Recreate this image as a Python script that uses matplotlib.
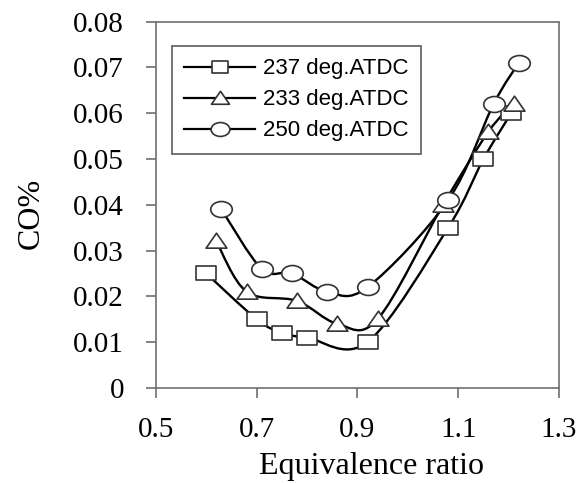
import numpy as np
import matplotlib
matplotlib.use("Agg")
import matplotlib.pyplot as plt
from matplotlib.path import Path
from matplotlib.patches import PathPatch
from matplotlib.lines import Line2D

# data
phi_237 = [0.60, 0.70, 0.75, 0.80, 0.92, 1.08, 1.15, 1.205]
co_237 = [0.025, 0.015, 0.012, 0.011, 0.010, 0.035, 0.050, 0.060]

phi_233 = [0.62, 0.68, 0.78, 0.86, 0.94, 1.07, 1.16, 1.21]
co_233 = [0.032, 0.021, 0.019, 0.014, 0.015, 0.040, 0.056, 0.062]

phi_250 = [0.63, 0.71, 0.77, 0.84, 0.92, 1.08, 1.17, 1.22]
co_250 = [0.039, 0.026, 0.025, 0.021, 0.022, 0.041, 0.062, 0.071]

labels = ["237 deg.ATDC", "233 deg.ATDC", "250 deg.ATDC"]
x_ticks = [0.5, 0.7, 0.9, 1.1, 1.3]
y_ticks = [0, 0.01, 0.02, 0.03, 0.04, 0.05, 0.06, 0.07, 0.08]


def smooth_path(x, y):
    # Excel-like smoothed line: cubic bezier through the points (Catmull-Rom)
    p = np.column_stack([x, y])
    verts = [p[0]]
    codes = [Path.MOVETO]
    n = len(p)
    for i in range(n - 1):
        p0 = p[i - 1] if i > 0 else p[i]
        p1 = p[i]
        p2 = p[i + 1]
        p3 = p[i + 2] if i + 2 < n else p[i + 1]
        verts += [p1 + (p2 - p0) / 6, p2 - (p3 - p1) / 6, p2]
        codes += [Path.CURVE4] * 3
    return Path(verts, codes)


def stretched(verts, sx=1.4):
    v = np.array(verts, dtype=float)
    v[:, 0] *= sx
    return Path(v, closed=True)


sq = stretched([(-1, -1), (1, -1), (1, 1), (-1, 1), (-1, -1)], 1.45)
tri = stretched([(-1, -0.8), (1, -0.8), (0, 1), (-1, -0.8)], 1.25)
circ = Path(Path.unit_circle().vertices * [1.35, 1.0], Path.unit_circle().codes)

fig = plt.figure(figsize=(5.86, 4.83), dpi=100)
ax = fig.add_axes([0.266, 0.197, 0.688, 0.758])

series = [(phi_237, co_237, sq, 14), (phi_233, co_233, tri, 15), (phi_250, co_250, circ, 15.5)]
handles = []
for (x, y, m, ms), lab in zip(series, labels):
    ax.add_patch(PathPatch(smooth_path(x, y), fill=False, edgecolor="black", lw=1.7, zorder=2))
    ax.plot(x, y, ls="none", marker=m, ms=ms, mfc="white", mec="#333333", mew=1.2, zorder=3)
    handles.append(Line2D([], [], color="black", lw=1.6, marker=m, ms=ms - 2,
                          mfc="white", mec="#333333", mew=1.2))

ax.set_xlim(0.5, 1.3)
ax.set_ylim(0, 0.08)
ax.set_xticks(x_ticks)
ax.set_yticks(y_ticks)
ax.set_xticklabels(["0.5", "0.7", "0.9", "1.1", "1.3"])
ax.set_yticklabels(["0", "0.01", "0.02", "0.03", "0.04", "0.05", "0.06", "0.07", "0.08"])

for s in ax.spines.values():
    s.set_color("#707070")
    s.set_linewidth(1.2)
ax.tick_params(axis="both", direction="out", length=7, width=1.2, color="#707070", labelsize=21)
ax.tick_params(axis="y", pad=16)
ax.tick_params(axis="x", pad=14)
for t in ax.get_xticklabels() + ax.get_yticklabels():
    t.set_fontfamily("Liberation Serif")

ax.set_xlabel("Equivalence ratio", fontsize=23, family="Liberation Serif")
ax.set_ylabel("CO%", fontsize=23, family="Liberation Serif")
ax.xaxis.set_label_coords(0.535, -0.216)
ax.xaxis.label.set_va("center")
ax.yaxis.set_label_coords(-0.31, 0.477)
ax.yaxis.label.set_va("center")

leg = ax.legend(handles, labels, loc="upper left", bbox_to_anchor=(0.04, 0.933),
                borderaxespad=0, fancybox=False, frameon=True, handlelength=3.2,
                prop={"family": "Liberation Sans", "size": 16}, labelspacing=0.45,
                borderpad=0.55, handletextpad=0.35)
leg.get_frame().set_edgecolor("#333333")
leg.get_frame().set_linewidth(1.2)

fig.savefig("out.png", dpi=100)
